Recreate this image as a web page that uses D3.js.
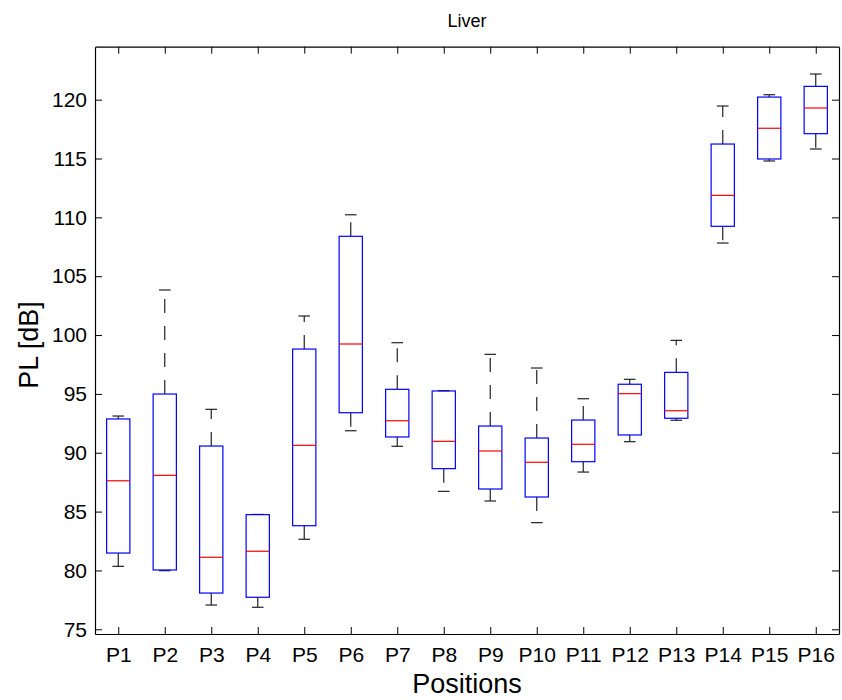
<!DOCTYPE html>
<html>
<head>
<meta charset="utf-8">
<script src="https://cdn.jsdelivr.net/npm/d3@7"></script>
<style>
  body { margin: 0; background: #fff; }
  svg text { font-family: "Liberation Sans", Arial, Helvetica, sans-serif; fill: #000; }
</style>
</head>
<body>
<svg id="chart" width="842" height="700"></svg>
<script>
// box plot values (PL in dB)
var positions   = ["P1","P2","P3","P4","P5","P6","P7","P8","P9","P10","P11","P12","P13","P14","P15","P16"];
var whiskerLow  = [80.35, 79.98, 77.06, 76.87, 82.65, 91.87, 90.55, 86.72, 85.90, 84.06, 88.36, 90.94, 92.76, 107.82, 114.79, 115.81];
var q1          = [81.48, 80.04, 78.08, 77.72, 83.80, 93.40, 91.34, 88.65, 86.92, 86.24, 89.24, 91.51, 92.93, 109.24, 114.96, 117.11];
var medians     = [87.62, 88.08, 81.12, 81.63, 90.63, 99.24, 92.72, 90.97, 90.15, 89.19, 90.72, 95.02, 93.57, 111.87, 117.57, 119.29];
var q3          = [92.87, 94.99, 90.57, 84.74, 98.81, 108.39, 95.39, 95.25, 92.27, 91.25, 92.78, 95.82, 96.83, 116.23, 120.22, 121.13];
var whiskerHigh = [93.12, 103.83, 93.69, 84.76, 101.62, 110.22, 99.35, 95.27, 98.36, 97.20, 94.59, 96.24, 99.55, 119.46, 120.42, 122.18];
var yTicks = [75, 80, 85, 90, 95, 100, 105, 110, 115, 120];

var svg = d3.select("#chart");
// note: "top" is taken by window.top, so plotTop etc.
var plotLeft = 95, plotRight = 839, plotTop = 46.7, plotBottom = 634;

var x = d3.scaleLinear().domain([0.5, 16.5]).range([plotLeft, plotRight]);
var y = d3.scaleLinear().domain([74.6, 124.5]).range([plotBottom, plotTop]);

var boxHalf = 0.25, capHalf = 0.125;

var data = positions.map(function(p, i){
    return {name: p, pos: i + 1, lo: whiskerLow[i], q1: q1[i], med: medians[i], q3: q3[i], hi: whiskerHigh[i]};
});

// axes (ticks pointing inward, like matlab)
svg.append("g")
    .attr("transform", "translate(0," + plotBottom + ")")
    .call(d3.axisBottom(x).tickValues(data.map(d => d.pos)).tickFormat((d, i) => positions[i])
        .tickSizeInner(-7).tickSizeOuter(0).tickPadding(13))
    .call(g => g.selectAll("text").style("font-size", "21px"));
svg.append("g")
    .attr("transform", "translate(0," + plotTop + ")")
    .call(d3.axisTop(x).tickValues(data.map(d => d.pos)).tickFormat("")
        .tickSizeInner(-7).tickSizeOuter(0));
svg.append("g")
    .attr("transform", "translate(" + plotLeft + ",0)")
    .call(d3.axisLeft(y).tickValues(yTicks).tickSizeInner(-7).tickSizeOuter(0).tickPadding(8))
    .call(g => g.selectAll("text").style("font-size", "21px"));
svg.append("g")
    .attr("transform", "translate(" + plotRight + ",0)")
    .call(d3.axisRight(y).tickValues(yTicks).tickFormat("").tickSizeInner(-7).tickSizeOuter(0));

svg.selectAll(".domain").attr("stroke", "#000").attr("stroke-width", 1.2);
svg.selectAll(".tick line").attr("stroke", "#000");

// boxes
var g = svg.append("g");
var boxes = g.selectAll(".box").data(data).enter().append("g");

// dashed whiskers, drawn outward from the box
boxes.append("line")
    .attr("x1", d => x(d.pos)).attr("x2", d => x(d.pos))
    .attr("y1", d => y(d.q3)).attr("y2", d => y(d.hi))
    .attr("stroke", "#222").attr("stroke-width", 1.2).attr("stroke-dasharray", "14,13");
boxes.append("line")
    .attr("x1", d => x(d.pos)).attr("x2", d => x(d.pos))
    .attr("y1", d => y(d.q1)).attr("y2", d => y(d.lo))
    .attr("stroke", "#222").attr("stroke-width", 1.2).attr("stroke-dasharray", "14,13");

// caps
boxes.append("line")
    .attr("x1", d => x(d.pos - capHalf)).attr("x2", d => x(d.pos + capHalf))
    .attr("y1", d => y(d.hi)).attr("y2", d => y(d.hi))
    .attr("stroke", "#222").attr("stroke-width", 1.2);
boxes.append("line")
    .attr("x1", d => x(d.pos - capHalf)).attr("x2", d => x(d.pos + capHalf))
    .attr("y1", d => y(d.lo)).attr("y2", d => y(d.lo))
    .attr("stroke", "#222").attr("stroke-width", 1.2);

boxes.append("rect")
    .attr("x", d => x(d.pos - boxHalf))
    .attr("width", d => x(d.pos + boxHalf) - x(d.pos - boxHalf))
    .attr("y", d => y(d.q3))
    .attr("height", d => y(d.q1) - y(d.q3))
    .attr("fill", "none").attr("stroke", "#0000ff").attr("stroke-width", 1.2);

boxes.append("line")
    .attr("x1", d => x(d.pos - boxHalf)).attr("x2", d => x(d.pos + boxHalf))
    .attr("y1", d => y(d.med)).attr("y2", d => y(d.med))
    .attr("stroke", "#ff0000").attr("stroke-width", 1.2);

// labels
svg.append("text")
    .attr("x", (plotLeft + plotRight) / 2).attr("y", 27)
    .attr("text-anchor", "middle").style("font-size", "18px")
    .text("Liver");
svg.append("text")
    .attr("x", (plotLeft + plotRight) / 2).attr("y", 693)
    .attr("text-anchor", "middle").style("font-size", "27px")
    .text("Positions");
svg.append("text")
    .attr("transform", "translate(38,345) rotate(-90)")
    .attr("text-anchor", "middle").style("font-size", "27px")
    .text("PL [dB]");
</script>
</body>
</html>
